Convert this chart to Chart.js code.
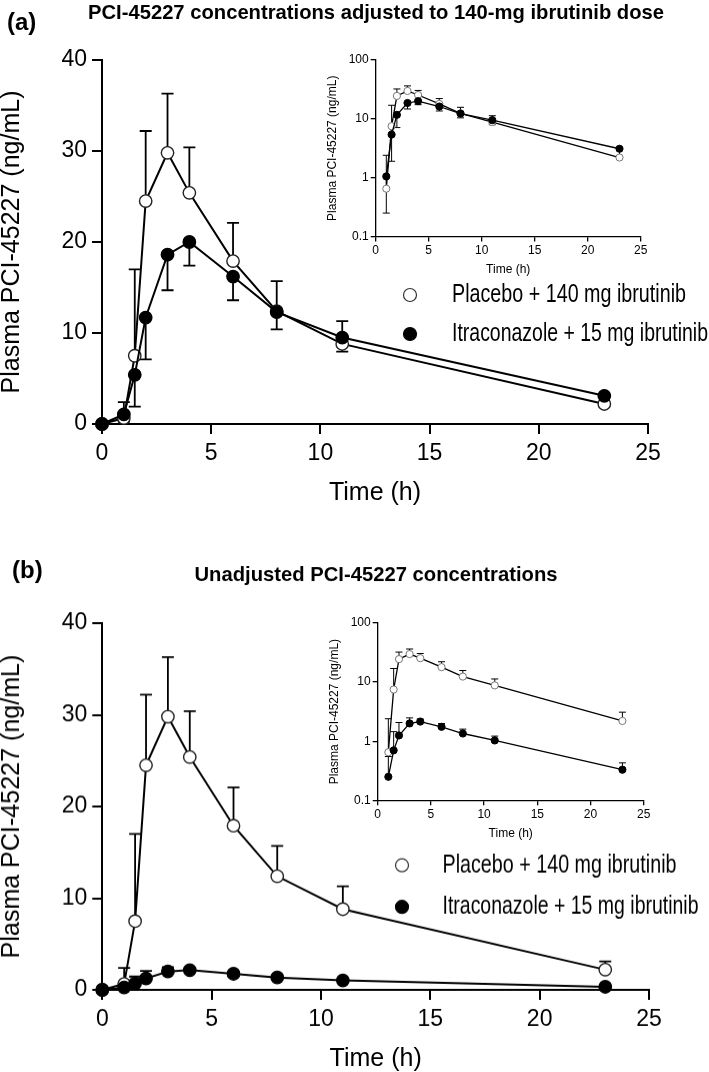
<!DOCTYPE html>
<html>
<head>
<meta charset="utf-8">
<script src="https://cdn.jsdelivr.net/npm/chart.js"></script>
<style>
html, body { margin: 0; padding: 0; background: #fff; }
#page { position: relative; width: 709px; height: 1072px; overflow: hidden; }
canvas { position: absolute; }
</style>
</head>
<body>
<div id="page"></div>
<script>
"use strict";

const times = [0, 1, 1.5, 2, 3, 4, 6, 8, 11, 23];
const placeboMean = [0, 0.65, 7.5, 24.5, 29.8, 25.4, 17.9, 12.4, 8.8, 2.2];
const placeboSD = [0, 1.75, 9.5, 7.7, 6.5, 5.0, 4.2, 3.3, 2.5, 0.9];
const itraAdjMean = [0, 1.05, 5.4, 11.7, 18.6, 20.0, 16.2, 12.3, 9.5, 3.1];
const itraAdjSD = [0, 0.8, 3.5, 4.6, 3.9, 2.6, 2.6, 1.9, 1.55, 0.9];
const itraMean = [0, 0.25, 0.7, 1.25, 2.0, 2.15, 1.75, 1.35, 1.03, 0.33];
const itraSD = [0, 0.3, 0.75, 0.82, 0.48, 0.22, 0.24, 0.25, 0.19, 0.1];
const timeTicks = [0, 5, 10, 15, 20, 25];
const concTicks = [0, 10, 20, 30, 40];
const logTicks = [0.1, 1, 10, 100];
const seriesNames = ["Placebo + 140 mg ibrutinib", "Itraconazole + 15 mg ibrutinib"];

const FONT = "'Liberation Sans', Arial, sans-serif";
Chart.defaults.font.family = FONT;
Chart.defaults.color = "#000";

const page = document.getElementById("page");

const panels = [
    {
        tag: "(a)", title: "PCI-45227 concentrations adjusted to 140-mg ibrutinib dose",
        itra: itraAdjMean, itraErr: itraAdjSD, itraDir: -1,
        tagX: 7, tagY: 23, titleY: 13, titleW: 576,
        main: { l: 102, r: 648, t: 60, b: 424 },
        inset: { l: 375.7, r: 640.7, t: 60, b: 236.5 },
        legend: { x: 410, y: [295, 334], tx: 452 },
    },
    {
        tag: "(b)", title: "Unadjusted PCI-45227 concentrations",
        itra: itraMean, itraErr: itraSD, itraDir: 1,
        tagX: 12, tagY: 572, titleY: 576, titleW: 363,
        main: { l: 102.3, r: 649, t: 623.3, b: 990 },
        inset: { l: 377.5, r: 643.5, t: 622.7, b: 800 },
        legend: { x: 402, y: [865, 906.5], tx: 442.5 },
    },
];

// vertical error bars, drawn under the markers
const errorBars = {
    id: "errorBars",
    beforeDatasetsDraw(chart) {
        const ctx = chart.ctx, xs = chart.scales.x, ys = chart.scales.y;
        chart.data.datasets.forEach((ds) => {
            if (!ds.err) return;
            ctx.save();
            ctx.strokeStyle = "#000";
            ctx.lineWidth = ds.errWidth;
            ds.data.forEach((pt, i) => {
                if (pt.y == null || !ds.err[i]) return;
                const end = pt.y + ds.errDir * ds.err[i];
                if (end <= 0) return;
                const px = xs.getPixelForValue(pt.x), y0 = ys.getPixelForValue(pt.y), y1 = ys.getPixelForValue(end);
                ctx.beginPath();
                ctx.moveTo(px, y0); ctx.lineTo(px, y1);
                ctx.moveTo(px - ds.capW / 2, y1); ctx.lineTo(px + ds.capW / 2, y1);
                ctx.stroke();
            });
            ctx.restore();
        });
    },
};

function fitText(ctx, text, x, y, font, width, align) {
    ctx.save();
    ctx.font = font;
    const sx = width ? width / ctx.measureText(text).width : 1;
    ctx.translate(x, y);
    ctx.scale(sx, 1);
    ctx.textAlign = align;
    ctx.textBaseline = "middle";
    ctx.fillStyle = "#000";
    ctx.fillText(text, 0, 0);
    ctx.restore();
}

function annotate(p, top) {
    return {
        id: "annotate",
        afterDraw(chart) {
            const ctx = chart.ctx, lg = p.legend;
            fitText(ctx, p.tag, p.tagX, p.tagY - top, `bold 24px ${FONT}`, 0, "left");
            fitText(ctx, p.title, 376, p.titleY - top, `bold 21px ${FONT}`, p.titleW, "center");
            [false, true].forEach((filled, k) => {
                const y = lg.y[k] - top;
                ctx.save();
                ctx.beginPath();
                ctx.arc(lg.x, y, 6.5, 0, Math.PI * 2);
                ctx.fillStyle = filled ? "#000" : "#fff";
                ctx.fill();
                ctx.lineWidth = 1.2;
                ctx.strokeStyle = filled ? "#000" : "#333";
                ctx.stroke();
                ctx.restore();
                fitText(ctx, seriesNames[k], lg.tx, y, `26px ${FONT}`, k ? 256 : 234, "left");
            });
        },
    };
}

function series(mean, err, dir, filled, inset) {
    return {
        data: times.map((t, i) => ({ x: t, y: inset && mean[i] <= 0 ? null : mean[i] })),
        err, errDir: dir,
        capW: inset ? 7 : 12, errWidth: inset ? 1 : 1.8,
        borderColor: "#000", borderWidth: inset ? 1.3 : 2,
        pointRadius: inset ? 3.6 : 6.2, pointHoverRadius: inset ? 3.6 : 6.2,
        pointBorderWidth: inset ? 1 : 1.4,
        pointBackgroundColor: filled ? "#000" : "#fff",
        pointBorderColor: filled ? "#000" : (inset ? "#777" : "#222"),
        tension: 0, clip: false,
    };
}

function axis(size, tickLen, lw, pad) {
    return {
        border: { display: true, color: "#000", width: lw },
        grid: { display: true, drawOnChartArea: false, drawTicks: true, tickLength: tickLen, color: "#000", lineWidth: lw },
        ticks: { color: "#000", font: { size }, padding: pad, autoSkip: false, maxRotation: 0, callback: (v) => String(v) },
    };
}

function addCanvas(left, top, w, h) {
    const cv = document.createElement("canvas");
    cv.width = w; cv.height = h;
    cv.style.cssText = `left:${left}px;top:${top}px;width:${w}px;height:${h}px`;
    page.appendChild(cv);
    return cv;
}

function drawMain(p) {
    const a = p.main, top = a.t - 64, xh = 82;
    const cv = addCanvas(0, top, 709, a.b + xh - top);
    new Chart(cv, {
        type: "line",
        data: { datasets: [series(p.itra, p.itraErr, p.itraDir, true, false), series(placeboMean, placeboSD, 1, false, false)] },
        options: {
            responsive: false, animation: false, devicePixelRatio: 1,
            layout: { padding: { left: 0, top: 64, right: 709 - a.r, bottom: 0 } },
            plugins: { legend: { display: false }, tooltip: { enabled: false } },
            scales: {
                x: {
                    type: "linear", min: 0, max: 25, ...axis(23, 10, 2, 6),
                    afterBuildTicks: (s) => { s.ticks = timeTicks.map((v) => ({ value: v })); },
                    afterFit: (s) => { s.height = xh; },
                    title: { display: true, text: "Time (h)", color: "#000", font: { size: 25, lineHeight: 1 }, padding: 0 },
                },
                y: {
                    type: "linear", min: 0, max: 40, ...axis(23, 10, 2, 5),
                    afterBuildTicks: (s) => { s.ticks = concTicks.map((v) => ({ value: v })); },
                    afterFit: (s) => { s.width = a.l; },
                    title: { display: true, text: "Plasma PCI-45227 (ng/mL)", color: "#000", font: { size: 25, lineHeight: 1 }, padding: 0 },
                },
            },
        },
        plugins: [errorBars, annotate(p, top)],
    });
}

function drawInset(p) {
    const n = p.inset, left = n.l - 55.7, top = n.t - 20, padL = 6.5, xh = 39;
    const W = Math.round(n.r + 20 - left), H = Math.round(n.b + xh + 5 - top);
    const cv = addCanvas(left, top, W, H);
    new Chart(cv, {
        type: "line",
        data: { datasets: [series(p.itra, p.itraErr, p.itraDir, true, true), series(placeboMean, placeboSD, 1, false, true)] },
        options: {
            responsive: false, animation: false, devicePixelRatio: 1,
            layout: { padding: { left: padL, top: 20, right: W - (n.r - left), bottom: H - (n.b - top) - xh } },
            plugins: { legend: { display: false }, tooltip: { enabled: false } },
            scales: {
                x: {
                    type: "linear", min: 0, max: 25, ...axis(12, 5, 1.3, 2),
                    afterBuildTicks: (s) => { s.ticks = timeTicks.map((v) => ({ value: v })); },
                    afterFit: (s) => { s.height = xh; },
                    title: { display: true, text: "Time (h)", color: "#000", font: { size: 12, lineHeight: 1 }, padding: 0 },
                },
                y: {
                    type: "logarithmic", min: 0.1, max: 100, ...axis(12, 5, 1.3, 2),
                    afterBuildTicks: (s) => { s.ticks = logTicks.map((v) => ({ value: v })); },
                    afterFit: (s) => { s.width = n.l - left - padL; },
                    title: { display: true, text: "Plasma PCI-45227 (ng/mL)", color: "#000", font: { size: 12, lineHeight: 1 }, padding: 0 },
                },
            },
        },
        plugins: [errorBars],
    });
}

panels.forEach((p) => { drawMain(p); drawInset(p); });
</script>
</body>
</html>
